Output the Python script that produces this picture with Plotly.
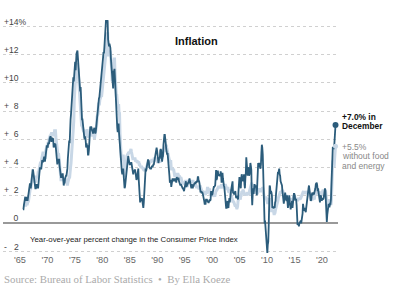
import plotly.graph_objects as go

START_YEAR = 1965

# Year-over-year % change in CPI (all items), monthly, Jan 1965 - Dec 2021
headline = [
    1.0,1.0,1.3,1.6,1.6,1.9,1.6,1.9,1.6,1.9,1.6,1.9,
    1.9,2.5,2.5,2.8,2.8,2.5,2.8,3.5,3.5,3.8,3.8,3.5,
    3.5,2.8,2.8,2.5,2.5,2.8,2.8,2.5,2.8,2.5,2.8,3.0,
    3.6,4.0,3.9,3.9,3.9,4.2,4.5,4.4,4.4,4.7,4.7,4.7,
    4.4,4.7,5.2,5.5,5.5,5.5,5.4,5.7,5.7,5.7,6.0,6.2,
    6.2,6.1,5.8,6.0,6.1,6.0,6.0,5.4,5.7,5.7,5.6,5.6,
    5.3,5.0,4.7,4.2,4.4,4.6,4.4,4.6,4.1,3.8,3.3,3.3,
    3.3,3.5,3.5,3.5,3.2,2.7,2.9,2.9,3.2,3.4,3.4,3.4,
    3.6,3.9,4.6,5.1,5.5,5.9,5.7,7.4,7.4,7.8,8.3,8.7,
    9.4,10.0,10.4,10.1,10.7,10.9,11.5,10.9,11.9,12.1,12.2,12.3,
    11.8,11.2,10.3,10.2,9.5,9.4,9.7,8.6,7.9,7.4,7.4,6.9,
    6.7,6.3,6.1,6.0,6.2,5.9,5.4,5.7,5.5,5.5,4.9,4.9,
    5.2,5.9,6.4,6.9,6.7,6.9,6.8,6.6,6.6,6.4,6.7,6.7,
    6.8,6.4,6.4,6.5,6.9,7.4,7.7,7.8,8.3,8.9,8.9,9.0,
    9.3,9.9,10.1,10.5,10.9,10.9,11.3,11.8,12.2,12.1,12.6,13.3,
    13.9,14.2,14.8,14.7,14.4,14.4,13.1,12.9,12.6,12.8,12.6,12.5,
    11.8,11.4,10.5,10.0,9.8,9.6,10.8,10.8,11.0,10.1,9.6,8.9,
    8.4,7.6,6.8,6.5,6.7,7.1,6.4,5.9,5.0,5.1,4.6,3.8,
    3.7,3.5,3.6,3.9,3.5,2.6,2.5,2.6,2.9,2.9,3.3,3.8,
    4.2,4.6,4.8,4.6,4.2,4.2,4.2,4.3,4.3,4.3,4.1,3.9,
    3.5,3.5,3.7,3.7,3.8,3.8,3.6,3.3,3.1,3.2,3.5,3.8,
    3.9,3.1,2.2,1.6,1.5,1.8,1.6,1.6,1.8,1.5,1.3,1.1,
    1.5,2.1,3.0,3.8,3.9,3.7,3.9,4.3,4.4,4.5,4.5,4.4,
    4.0,3.9,3.9,3.9,3.9,4.0,4.1,4.0,4.2,4.2,4.2,4.4,
    4.7,4.8,5.0,5.1,5.4,5.2,5.0,4.7,4.3,4.5,4.7,4.6,
    5.2,5.3,5.2,4.7,4.4,4.7,4.8,5.6,6.2,6.3,6.3,6.1,
    5.7,5.3,4.9,4.9,5.0,4.7,4.4,3.8,3.4,2.9,3.0,3.1,
    2.6,2.8,3.2,3.2,3.0,3.1,3.2,3.1,3.0,3.2,3.0,2.9,
    3.3,3.2,3.1,3.2,3.2,3.0,2.8,2.8,2.7,2.8,2.7,2.7,
    2.5,2.5,2.5,2.4,2.3,2.5,2.8,2.9,3.0,2.6,2.7,2.7,
    2.8,2.9,2.9,3.1,3.2,3.0,2.8,2.6,2.5,2.8,2.6,2.5,
    2.7,2.7,2.8,2.9,2.9,2.8,3.0,2.9,3.0,3.0,3.3,3.3,
    3.0,3.0,2.8,2.5,2.2,2.3,2.2,2.2,2.2,2.1,1.8,1.7,
    1.6,1.4,1.4,1.4,1.7,1.7,1.7,1.6,1.5,1.5,1.5,1.6,
    1.7,1.6,1.7,2.3,2.1,2.0,2.1,2.3,2.6,2.6,2.6,2.7,
    2.7,3.2,3.8,3.1,3.2,3.7,3.7,3.4,3.5,3.4,3.4,3.4,
    3.7,3.5,2.9,3.3,3.6,3.2,2.7,2.7,2.6,2.1,1.9,1.6,
    1.1,1.1,1.5,1.6,1.2,1.1,1.5,1.8,1.5,2.0,2.2,2.4,
    2.6,3.0,3.0,2.2,2.1,2.1,2.1,2.2,2.3,2.0,1.8,1.9,
    1.9,1.7,1.7,2.3,3.1,3.3,3.0,2.7,2.5,3.2,3.5,3.3,
    3.0,3.0,3.1,3.5,2.8,2.5,3.2,3.6,4.7,4.3,3.5,3.4,
    4.0,3.6,3.4,3.5,4.2,4.3,4.1,3.8,2.1,1.3,2.0,2.5,
    2.1,2.4,2.8,2.6,2.7,2.7,2.4,2.0,2.8,3.5,4.3,4.1,
    4.3,4.0,4.0,3.9,4.2,5.0,5.6,5.4,4.9,3.7,1.1,0.1,
    0.0,0.2,-0.4,-0.7,-1.3,-1.4,-2.1,-1.5,-1.3,-0.2,1.8,2.7,
    2.6,2.1,2.3,2.2,2.0,1.1,1.2,1.1,1.1,1.2,1.1,1.5,
    1.6,2.1,2.7,3.2,3.6,3.6,3.6,3.8,3.9,3.5,3.4,3.0,
    2.9,2.9,2.7,2.3,1.7,1.7,1.4,1.7,2.0,2.2,1.8,1.7,
    1.6,2.0,1.5,1.1,1.4,1.8,2.0,1.5,1.2,1.0,1.2,1.5,
    1.6,1.1,1.5,2.0,2.1,2.1,2.0,1.7,1.7,1.7,1.3,0.8,
    -0.1,0.0,-0.1,-0.2,0.0,0.1,0.2,0.2,0.0,0.2,0.5,0.7,
    1.4,1.0,0.9,1.1,1.0,1.0,0.8,1.1,1.5,1.6,1.7,2.1,
    2.5,2.7,2.4,2.2,1.9,1.6,1.7,1.9,2.2,2.0,2.2,2.1,
    2.1,2.2,2.4,2.5,2.8,2.9,2.9,2.7,2.3,2.5,2.2,1.9,
    1.6,1.5,1.9,2.0,1.8,1.6,1.8,1.7,1.7,1.8,2.1,2.3,
    2.5,2.3,1.5,0.3,0.1,0.6,1.0,1.3,1.4,1.2,1.2,1.4,
    1.4,1.7,2.6,4.2,5.0,5.4,5.4,5.3,5.4,6.2,6.8,7.0,
]

# Core CPI (without food and energy), same months
core = [
    1.3,1.3,1.3,1.3,1.3,1.3,1.3,1.6,1.6,1.3,1.6,1.6,
    1.6,1.9,2.2,2.5,2.5,2.5,2.8,3.1,3.4,3.4,3.4,3.3,
    3.3,3.0,3.0,3.0,3.0,3.3,3.3,3.3,3.3,3.6,3.6,3.8,
    4.1,4.3,4.3,4.3,4.3,4.6,4.8,4.8,5.1,5.0,5.0,4.7,
    4.7,4.7,5.2,5.5,5.5,5.5,5.5,5.8,5.7,6.0,6.2,6.2,
    6.2,6.4,6.4,6.4,6.4,6.4,6.3,6.3,6.3,6.6,6.6,6.6,
    6.1,5.8,5.3,5.0,5.0,4.9,4.9,4.6,4.0,3.6,3.1,3.1,
    3.1,3.1,3.1,3.1,3.1,3.1,3.1,3.1,3.1,3.1,3.1,3.0,
    2.7,2.7,2.9,3.1,3.1,3.3,3.3,3.5,4.0,4.3,4.9,4.7,
    5.3,6.0,6.5,7.3,8.7,9.5,10.0,10.7,11.1,11.1,11.4,11.1,
    11.0,10.6,10.0,10.0,9.6,9.0,8.1,7.3,7.0,7.0,6.8,6.7,
    6.6,6.6,6.5,6.6,6.5,6.2,6.3,6.5,6.7,6.4,6.3,6.1,
    6.4,6.3,6.3,6.4,6.6,6.7,6.3,6.2,6.3,6.2,6.6,6.5,
    6.0,6.2,6.4,6.4,6.7,7.0,7.6,7.7,7.8,8.5,8.5,8.5,
    8.8,9.0,9.0,9.1,9.1,9.4,9.7,10.3,10.6,10.6,11.1,11.3,
    11.8,12.0,12.4,12.9,13.2,13.6,12.3,11.9,12.0,12.2,12.3,12.2,
    11.9,11.6,10.9,10.2,10.2,10.2,11.3,11.6,11.8,10.8,10.0,9.5,
    9.1,9.1,8.4,8.4,8.2,8.5,7.8,7.8,6.4,5.5,4.9,4.5,
    4.7,4.7,4.7,4.9,4.4,3.5,3.4,3.3,3.8,4.0,4.3,4.8,
    4.9,4.9,5.0,5.0,5.1,5.0,5.2,5.3,5.3,5.1,4.8,4.7,
    4.6,4.6,4.6,4.6,4.6,4.6,4.4,4.5,4.5,4.4,4.4,4.3,
    4.4,4.4,4.2,4.2,4.1,4.0,4.0,4.1,3.9,4.0,3.9,3.8,
    3.8,3.8,3.8,3.9,3.9,3.9,4.0,4.2,4.3,4.3,4.2,4.2,
    4.3,4.3,4.4,4.4,4.4,4.5,4.5,4.4,4.5,4.5,4.5,4.7,
    4.6,4.6,4.6,4.5,4.4,4.4,4.4,4.3,4.4,4.4,4.4,4.4,
    4.4,4.6,4.8,4.7,4.7,4.8,5.0,5.2,5.3,5.1,5.3,5.2,
    5.6,5.6,5.4,5.2,5.1,5.0,4.8,4.7,4.5,4.4,4.4,4.4,
    3.9,3.8,3.9,3.9,3.8,3.9,3.7,3.5,3.3,3.5,3.5,3.3,
    3.5,3.4,3.5,3.5,3.4,3.3,3.4,3.2,3.1,3.3,3.1,3.2,
    2.9,2.8,2.9,2.8,2.8,2.9,2.9,3.0,3.0,2.8,2.8,2.6,
    2.9,3.0,3.0,3.1,3.1,3.0,3.0,3.0,2.9,3.0,3.0,3.0,
    3.0,2.9,2.8,2.7,2.7,2.7,2.7,2.6,2.6,2.6,2.6,2.6,
    2.5,2.5,2.5,2.7,2.5,2.4,2.4,2.3,2.2,2.3,2.2,2.2,
    2.2,2.3,2.1,2.1,2.2,2.2,2.2,2.5,2.5,2.3,2.3,2.4,
    2.4,2.1,2.1,2.2,2.0,2.1,2.1,1.9,2.0,2.1,2.1,1.9,
    2.0,2.2,2.4,2.3,2.4,2.5,2.5,2.6,2.6,2.5,2.6,2.6,
    2.6,2.7,2.7,2.6,2.5,2.7,2.7,2.7,2.6,2.6,2.8,2.7,
    2.6,2.6,2.4,2.5,2.5,2.3,2.2,2.4,2.2,2.2,2.0,1.9,
    1.9,1.7,1.7,1.5,1.6,1.5,1.5,1.3,1.2,1.3,1.1,1.1,
    1.1,1.2,1.6,1.8,1.7,1.9,1.8,1.7,2.0,2.0,2.2,2.2,
    2.3,2.4,2.3,2.2,2.2,2.0,2.1,2.1,2.0,2.1,2.1,2.2,
    2.1,2.1,2.1,2.3,2.4,2.6,2.7,2.8,2.9,2.7,2.6,2.6,
    2.7,2.7,2.5,2.3,2.2,2.2,2.2,2.1,2.1,2.2,2.3,2.4,
    2.5,2.3,2.4,2.3,2.3,2.4,2.5,2.5,2.5,2.2,2.0,1.8,
    1.7,1.8,1.8,1.9,1.8,1.7,1.5,1.4,1.5,1.7,1.7,1.8,
    1.6,1.3,1.1,0.9,0.9,0.9,0.9,0.9,0.8,0.6,0.8,0.8,
    1.0,1.1,1.2,1.3,1.5,1.6,1.8,2.0,2.0,2.1,2.2,2.2,
    2.3,2.2,2.3,2.3,2.3,2.2,2.1,1.9,2.0,2.0,1.9,1.9,
    1.9,2.0,1.9,1.7,1.7,1.6,1.7,1.8,1.7,1.7,1.7,1.7,
    1.6,1.6,1.7,1.8,2.0,1.9,1.9,1.7,1.7,1.8,1.7,1.6,
    1.6,1.7,1.8,1.8,1.7,1.8,1.8,1.8,1.9,1.9,2.0,2.1,
    2.2,2.3,2.2,2.1,2.2,2.2,2.2,2.3,2.2,2.1,2.1,2.2,
    2.3,2.2,2.0,1.9,1.7,1.7,1.7,1.7,1.7,1.8,1.7,1.8,
    1.8,1.8,2.1,2.1,2.2,2.3,2.4,2.2,2.2,2.1,2.2,2.2,
    2.2,2.1,2.0,2.1,2.0,2.1,2.2,2.4,2.4,2.3,2.3,2.3,
    2.3,2.4,2.1,1.4,1.2,1.2,1.6,1.7,1.7,1.6,1.6,1.6,
    1.4,1.3,1.6,3.0,3.8,4.5,4.3,4.0,4.0,4.6,4.9,5.5,
]

x_tick_years = [1965, 1970, 1975, 1980, 1985, 1990, 1995, 2000, 2005, 2010, 2015, 2020]
x_tick_labels = ["'65", "'70", "'75", "'80", "'85", "'90", "'95", "'00", "'05", "'10", "'15", "'20"]
y_tick_vals = [-2, 0, 2, 4, 6, 8, 10, 12, 14]
NB = "\u00a0"
y_tick_labels = ["-" + NB * 3 + "2", NB * 4 + "0", "+" + NB * 2 + "2", "+" + NB * 2 + "4",
                 "+" + NB * 2 + "6", "+" + NB * 2 + "8", "+10", "+12", "+14%"]

headline_label = ["+7.0% in", "December"]
core_label = ["+5.5%", "without food", "and energy"]

x_vals = [START_YEAR + i / 12 for i in range(len(headline))]

DARK = "#2b5c7b"
LIGHT = "#c8d7e6"

W, H = 400, 293
L, R, T, B = 3, 62, 20, 35
PW, PH = W - L - R, H - T - B


def px(xp):
    return (xp - L) / PW


def py(yp):
    return (H - B - yp) / PH


fig = go.Figure()
fig.add_trace(go.Scatter(x=x_vals, y=core, mode="lines",
                         line=dict(color=LIGHT, width=3), hoverinfo="skip"))
fig.add_trace(go.Scatter(x=x_vals, y=headline, mode="lines",
                         line=dict(color=DARK, width=1.8), hoverinfo="skip"))
fig.add_trace(go.Scatter(x=[x_vals[-1]], y=[core[-1]], mode="markers",
                         marker=dict(color=LIGHT, size=5), cliponaxis=False))
fig.add_trace(go.Scatter(x=[x_vals[-1]], y=[headline[-1]], mode="markers",
                         marker=dict(color=DARK, size=6), cliponaxis=False))

SANS = "Liberation Sans"
fig.update_layout(
    width=W, height=H, margin=dict(l=L, r=R, t=T, b=B),
    paper_bgcolor="white", plot_bgcolor="white", showlegend=False,
    xaxis=dict(range=[1961.36, 2022.37], tickvals=x_tick_years, ticktext=x_tick_labels,
               showgrid=False, zeroline=False, showline=False, ticks="",
               tickfont=dict(family=SANS, size=9.2, color="#666"),
               ticklabelshift=-3, ticklabelstandoff=-5),
    yaxis=dict(range=[-2.46, 14.477], tickvals=y_tick_vals, showticklabels=False,
               showgrid=True, gridcolor="#d0d0d0", griddash="dot", gridwidth=1,
               zeroline=True, zerolinecolor="#999999", zerolinewidth=2, ticks=""),
    font=dict(family=SANS),
)

# y-axis tick labels sit just above their gridlines, at the left edge
for v, t in zip(y_tick_vals, y_tick_labels):
    fig.add_annotation(xref="paper", yref="y", x=px(2), y=v, text=t, showarrow=False,
                       xanchor="left", yanchor="middle", yshift=5,
                       font=dict(family=SANS, size=8.6, color="#444"))

fig.add_annotation(xref="paper", yref="paper", x=px(196.5), y=py(41), text="<b>Inflation</b>",
                   showarrow=False, xanchor="center", yanchor="middle",
                   font=dict(family=SANS, size=11, color="#111"))
fig.add_annotation(xref="paper", yref="paper", x=px(28), y=py(239),
                   text="Year-over-year percent change in the Consumer Price Index",
                   showarrow=False, xanchor="left", yanchor="middle",
                   font=dict(family=SANS, size=7.8, color="#222"))
for i, t in enumerate(headline_label):
    fig.add_annotation(xref="paper", yref="paper", x=px(340.5), y=py(116.5 + 10 * i),
                       text="<b>" + t + "</b>", showarrow=False, xanchor="left", yanchor="middle",
                       font=dict(family=SANS, size=8.4, color="#111"))
for i, t in enumerate(core_label):
    fig.add_annotation(xref="paper", yref="paper", x=px(340.5), y=py(146.5 + 9.8 * i),
                       text=t, showarrow=False, xanchor="left", yanchor="middle",
                       font=dict(family=SANS, size=8.5, color="#888"))
fig.add_annotation(xref="paper", yref="paper", x=px(2), y=py(279),
                   text="Source: Bureau of Labor Statistics \u00a0\u2022\u00a0 By Ella Koeze",
                   showarrow=False, xanchor="left", yanchor="middle",
                   font=dict(family="Liberation Serif", size=10.8, color="#aaa"))

fig.write_html("out.html")
